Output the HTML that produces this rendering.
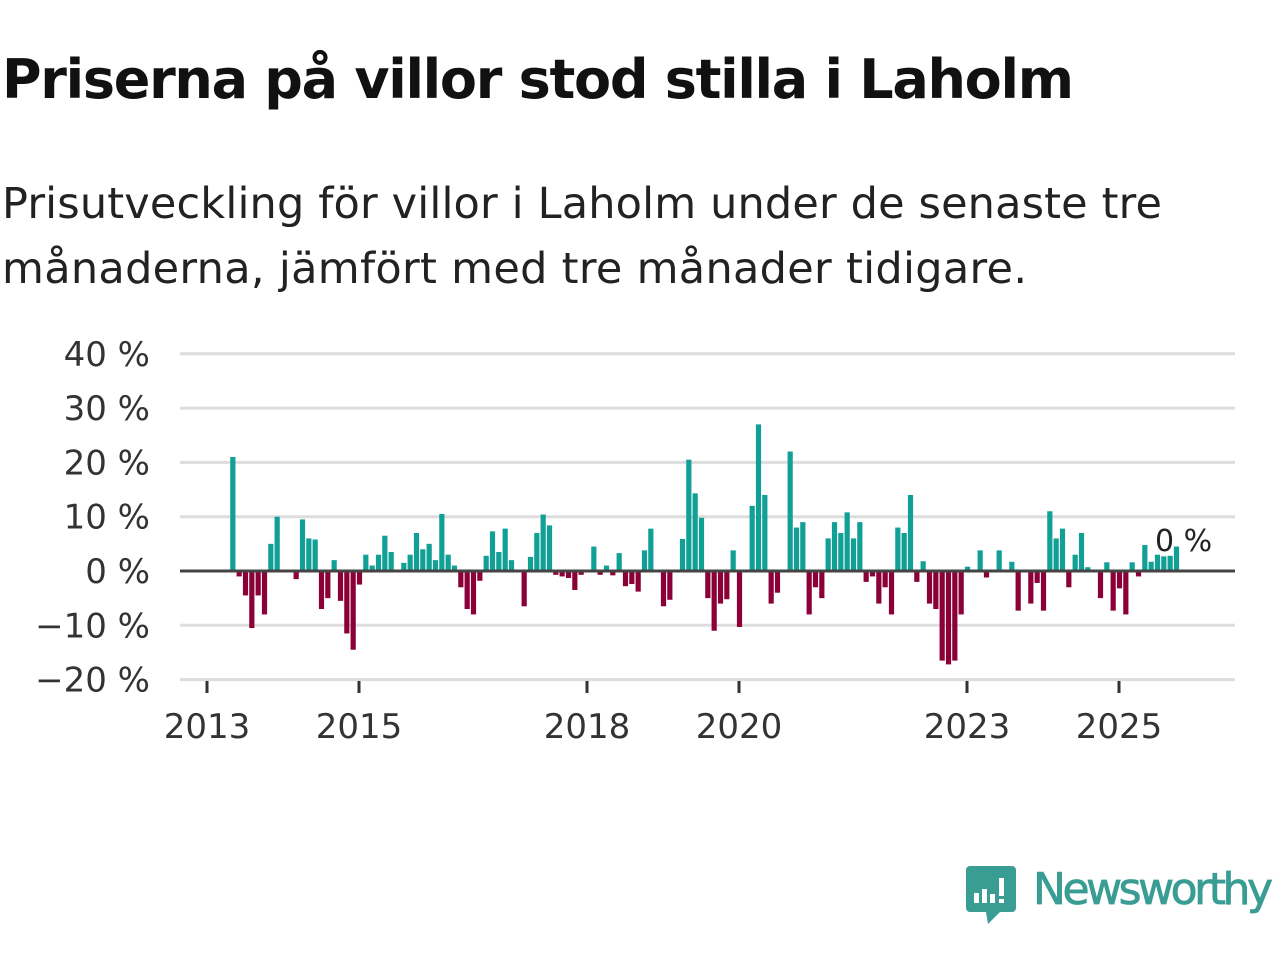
<!DOCTYPE html>
<html><head><meta charset="utf-8"><style>
body{margin:0;width:1280px;height:960px;background:#fff;overflow:hidden;font-family:"Liberation Sans","DejaVu Sans",sans-serif}
</style></head><body>
<svg width="1280" height="960" xmlns="http://www.w3.org/2000/svg">
<text x="2" y="98" font-size="54" font-weight="bold" fill="#111" font-family="DejaVu Sans, Liberation Sans, sans-serif" textLength="1072">Priserna på villor stod stilla i Laholm</text>
<text x="2" y="218" font-size="43" fill="#222" font-family="DejaVu Sans, Liberation Sans, sans-serif" textLength="1160">Prisutveckling för villor i Laholm under de senaste tre</text>
<text x="2" y="283" font-size="43" fill="#222" font-family="DejaVu Sans, Liberation Sans, sans-serif" textLength="1025">månaderna, jämfört med tre månader tidigare.</text>
<g id="grid"></g>
<g id="yt"></g>
<g id="bars"></g>
<line x1="180" x2="1235" y1="571" y2="571" stroke="#444" stroke-width="3"/>
<g id="xt"></g>
<text x="1155" y="551" font-size="30" fill="#222" stroke="#fff" stroke-width="5" paint-order="stroke" font-family="DejaVu Sans, Liberation Sans, sans-serif">0 %</text>
<g>
<path d="M970 866 h42 a4 4 0 0 1 4 4 v38 a4 4 0 0 1 -4 4 h-12 l-12 12 l-2 -12 h-16 a4 4 0 0 1 -4 -4 v-38 a4 4 0 0 1 4 -4z" fill="#3a9d94"/>
<rect x="974" y="893" width="5" height="10" fill="#fff"/><rect x="982" y="889" width="5" height="14" fill="#fff"/><rect x="990" y="894" width="5" height="9" fill="#fff"/><rect x="999" y="878" width="5" height="18" fill="#fff"/><rect x="999" y="899" width="5" height="4" fill="#fff"/>
<text x="1033" y="904" font-size="44" fill="#3a9d94" stroke="#3a9d94" stroke-width="0.8" font-family="DejaVu Sans, Liberation Sans, sans-serif" textLength="240">Newsworthy</text>
</g>
</svg>
<script>
const yTicks=[40,30,20,10,0,-10,-20];
const yTickLabels=["40 %","30 %","20 %","10 %","0 %","\u221210 %","\u221220 %"];
const xYears=[2013,2015,2018,2020,2023,2025];
const startMonth=4; // months after Jan 2013
const values=[21,-1,-4.5,-10.5,-4.5,-8,5,10,0,0,-1.5,9.5,6,5.8,-7,-5,2,-5.5,-11.5,-14.5,-2.5,3,1,3,6.5,3.5,0,1.5,3,7,4,5,2,10.5,3,1,-3,-7,-8,-1.8,2.8,7.3,3.5,7.8,2,0,-6.5,2.6,7,10.4,8.4,-0.7,-1,-1.3,-3.5,-0.7,0,4.5,-0.7,1,-0.8,3.3,-2.8,-2.4,-3.8,3.8,7.8,0,-6.5,-5.3,0,5.9,20.5,14.3,9.8,-5,-11,-6,-5.2,3.8,-10.3,0,12,27,14,-6,-4,0,22,8,9,-8,-3,-5,6,9,7,10.8,6,9,-2,-1,-6,-3,-8,8,7,14,-2,1.8,-6,-7,-16.5,-17.2,-16.5,-8,0.8,0,3.8,-1.2,0,3.8,0,1.7,-7.3,0,-6,-2.2,-7.3,11,6,7.8,-3,3,7,0.7,0,-5,1.6,-7.3,-3.2,-8,1.6,-1,4.8,1.7,3,2.7,2.8,4.5];
const NS="http://www.w3.org/2000/svg";
const y=v=>571-v*5.43;
const xYear=yr=>207+(yr-2013)*76;
const xMonth=m=>207+m*76/12;
function mk(t,a){const e=document.createElementNS(NS,t);for(const k in a)e.setAttribute(k,a[k]);return e;}
const grid=document.getElementById('grid'),yt=document.getElementById('yt'),bars=document.getElementById('bars'),xt=document.getElementById('xt');
yTicks.forEach((v,i)=>{
 if(v!==0){const l=mk('line',{x1:180,x2:1235,y1:y(v),y2:y(v),stroke:'#ddd','stroke-width':3});
 
 
 grid.appendChild(l);}
 const t=mk('text',{x:150,y:y(v)+12,'font-size':34,fill:'#333','text-anchor':'end','font-family':'DejaVu Sans, Liberation Sans, sans-serif'});
 t.textContent=yTickLabels[i];
 
 
 yt.appendChild(t);
});
values.forEach((v,i)=>{
 if(v===0)return;
 const cx=xMonth(startMonth+i)+0.5;
 const r=mk('rect',{x:cx-2.6,width:5.2,y:Math.min(y(v),571),height:Math.abs(y(v)-571),fill:v>0?'#11a096':'#8c0038'});
 
 
 bars.appendChild(r);
});
xYears.forEach(yr=>{
 const x=xYear(yr);
 const l=mk('line',{x1:x,x2:x,y1:681,y2:693,stroke:'#333','stroke-width':3});
 
 
 xt.appendChild(l);
 const t=mk('text',{x:x,y:738,'font-size':34,fill:'#333','text-anchor':'middle','font-family':'DejaVu Sans, Liberation Sans, sans-serif'});
 t.textContent=yr;
 
 
 xt.appendChild(t);
});
</script>
</body></html>
